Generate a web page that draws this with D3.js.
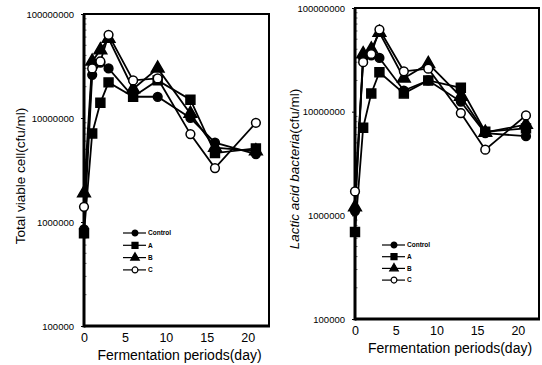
<!DOCTYPE html>
<html>
<head>
<meta charset="utf-8">
<script src="https://cdn.jsdelivr.net/npm/d3@7/dist/d3.min.js"></script>
<style>
  body { margin: 0; background: #fff; }
  svg { display: block; }
  text { font-family: "Liberation Sans", Arial, sans-serif; fill: #000; }
</style>
</head>
<body>
<div id="chart"></div>
<script>
// sampling days (x)
const days = [0, 1, 2, 3, 6, 9, 13, 16, 21];
const seriesNames = ['Control', 'A', 'B', 'C'];
const xTicks = [0, 5, 10, 15, 20];
const yTicks = [1e5, 1e6, 1e7, 1e8];

// left panel: total viable cell (cfu/ml)
const tvcControl = [8.5e5, 2.6e7, 3.4e7, 3.0e7, 1.6e7, 1.6e7, 1.0e7, 5.8e6, 4.5e6];
const tvcA       = [7.8e5, 7.1e6, 1.4e7, 2.2e7, 1.6e7, 2.3e7, 1.5e7, 4.6e6, 5.1e6];
const tvcB       = [1.9e6, 3.5e7, 4.5e7, 5.8e7, 1.9e7, 3.0e7, 1.1e7, 5.2e6, 4.8e6];
const tvcC       = [1.4e6, 3.0e7, 3.5e7, 6.3e7, 2.3e7, 2.4e7, 7.0e6, 3.3e6, 9.0e6];

// right panel: lactic acid bacteria (cfu/ml)
const labControl = [1.1e6, 3.3e7, 3.5e7, 3.3e7, 1.6e7, 2.0e7, 1.25e7, 6.2e6, 5.8e6];
const labA       = [6.9e5, 7.0e6, 1.5e7, 2.4e7, 1.5e7, 2.0e7, 1.7e7, 6.4e6, 6.9e6];
const labB       = [1.2e6, 3.6e7, 4.0e7, 5.8e7, 2.1e7, 2.9e7, 1.4e7, 6.3e6, 7.5e6];
const labC       = [1.7e6, 3.0e7, 3.6e7, 6.2e7, 2.45e7, 2.6e7, 9.7e6, 4.3e6, 9.2e6];

const W = 542, H = 365;
const svg = d3.select('#chart').append('svg')
  .attr('width', W).attr('height', H)
  .attr('viewBox', [0, 0, W, H]);

const markers = {
  Control: { type: d3.symbolCircle, size: 60, fill: '#000' },
  A:       { type: d3.symbolSquare, size: 80, fill: '#000' },
  B:       { type: d3.symbolTriangle, size: 70, fill: '#000' },
  C:       { type: d3.symbolCircle, size: 60, fill: '#fff' }
};

function drawPanel(cfg) {
  const g = svg.append('g').attr('class', 'panel');
  const x = d3.scaleLinear([0, 22.6], [cfg.left, cfg.right]);
  const y = d3.scaleLog([1e5, 1e8], [cfg.bottom, cfg.top]);

  // minor log ticks inside the left border
  const minor = [];
  for (let e = 5; e < 8; e++) for (let m = 2; m < 10; m++) minor.push(m * Math.pow(10, e));
  g.append('g').selectAll('line').data(minor).join('line')
    .attr('x1', cfg.left).attr('x2', cfg.left + 2.5)
    .attr('y1', d => y(d)).attr('y2', d => y(d))
    .style('stroke', '#000').style('stroke-width', 0.6);

  // y axis
  g.append('g')
    .attr('transform', `translate(${cfg.left},0)`)
    .call(d3.axisLeft(y).tickValues(yTicks).tickFormat(d3.format('d')).tickSize(3).tickPadding(7))
    .call(a => a.select('.domain').remove())
    .call(a => a.selectAll('text').style('font-size', '9.5px').style('font-family', '"Liberation Sans", Arial, sans-serif'));

  // x axis
  g.append('g')
    .attr('transform', `translate(0,${cfg.bottom})`)
    .call(d3.axisBottom(x).tickValues(xTicks).tickSize(0).tickPadding(7))
    .call(a => a.select('.domain').remove())
    .call(a => a.selectAll('text').style('font-size', '12.5px').style('font-family', '"Liberation Sans", Arial, sans-serif'));

  // frame
  g.append('rect')
    .attr('x', cfg.left).attr('y', cfg.top)
    .attr('width', cfg.right - cfg.left).attr('height', cfg.bottom - cfg.top)
    .style('fill', 'none').style('stroke', '#000').style('stroke-width', 2);
  g.append('line')
    .attr('x1', cfg.left).attr('x2', cfg.left).attr('y1', cfg.top).attr('y2', cfg.bottom + 1.5)
    .style('stroke', '#000').style('stroke-width', 3);
  g.append('line')
    .attr('x1', cfg.left).attr('x2', cfg.right + 1).attr('y1', cfg.bottom).attr('y2', cfg.bottom)
    .style('stroke', '#000').style('stroke-width', 3);

  // series lines
  const line = d3.line().x(d => x(d.day)).y(d => y(d.v));
  const data = seriesNames.map((name, i) => ({
    name: name,
    pts: days.map((day, j) => ({ day: day, v: cfg.series[i][j] }))
  }));

  g.append('g').selectAll('path').data(data).join('path')
    .attr('d', d => line(d.pts))
    .style('fill', 'none').style('stroke', '#000').style('stroke-width', 1.8);

  // markers
  data.forEach(s => {
    const mk = markers[s.name];
    g.append('g').selectAll('path').data(s.pts).join('path')
      .attr('transform', d => `translate(${x(d.day)},${y(d.v)})`)
      .attr('d', d3.symbol(mk.type, mk.size))
      .style('fill', mk.fill).style('stroke', '#000').style('stroke-width', 1.5);
  });

  // legend
  const lg = g.append('g').attr('class', 'legend');
  seriesNames.forEach((name, i) => {
    const ly = cfg.legend.y + i * cfg.legend.step;
    lg.append('line')
      .attr('x1', cfg.legend.x).attr('x2', cfg.legend.x + 23)
      .attr('y1', ly).attr('y2', ly)
      .style('stroke', '#000').style('stroke-width', 1.2);
    const mk = markers[name];
    lg.append('path')
      .attr('transform', `translate(${cfg.legend.x + 12},${ly})`)
      .attr('d', d3.symbol(mk.type, mk.size * 0.45))
      .style('fill', mk.fill).style('stroke', '#000').style('stroke-width', 1.2);
    lg.append('text')
      .attr('x', cfg.legend.x + 25).attr('y', ly)
      .attr('dy', '0.35em')
      .style('font-size', '6.5px').style('font-weight', 'bold')
      .text(name);
  });

  // axis titles
  g.append('text')
    .attr('x', (cfg.left + cfg.right) / 2 + 3).attr('y', cfg.xTitleY)
    .attr('text-anchor', 'middle')
    .style('font-size', '14px')
    .text('Fermentation periods(day)');

  const yt = g.append('text')
    .attr('transform', `translate(${cfg.yTitleX},${cfg.yTitleY}) rotate(-90)`)
    .attr('text-anchor', 'middle')
    .style('font-size', '13.5px');
  cfg.yTitle(yt);
}

drawPanel({
  left: 84, right: 269, top: 14, bottom: 326,
  series: [tvcControl, tvcA, tvcB, tvcC],
  legend: { x: 123, y: 233, step: 12.3 },
  xTitleY: 360, yTitleX: 25, yTitleY: 176,
  yTitle: t => t.text('Total viable cell(cfu/ml)')
});

drawPanel({
  left: 355, right: 539, top: 8, bottom: 319,
  series: [labControl, labA, labB, labC],
  legend: { x: 382, y: 245, step: 11.7 },
  xTitleY: 353, yTitleX: 299, yTitleY: 169,
  yTitle: t => {
    t.append('tspan').style('font-style', 'italic').text('Lactic acid bacteria');
    t.append('tspan').text('(cfu/ml)');
  }
});
</script>
</body>
</html>
